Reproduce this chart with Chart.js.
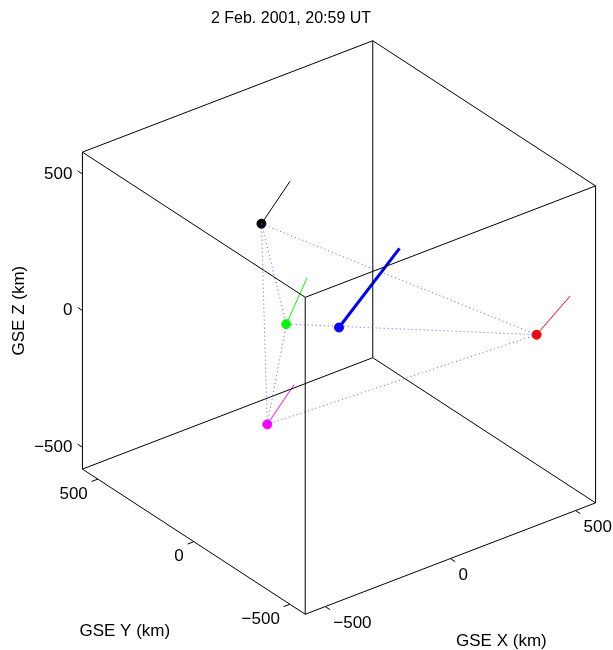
<!DOCTYPE html>
<html>
<head>
<meta charset="utf-8">
<script src="https://cdn.jsdelivr.net/npm/chart.js@4"></script>
<style>
  body { margin: 0; background: #fff; }
  canvas { display: block; }
</style>
</head>
<body>
<canvas id="tetra" width="613" height="650"></canvas>
<script>
// spacecraft positions relative to barycentre (GSE, km)
const craft = ["C1", "C2", "C3", "C4", "Barycentre"];
const posX = [-95, 490, -130, -275, 0];
const posY = [280, -390, 105, 15, 0];
const posZ = [285, -20, 10, -265, 0];
// direction vectors drawn from each point (km)
const vecX = [116, 122, 69, 108, 254];
const vecY = [2, -16, -19, 2, 16];
const vecZ = [114, 106, 155, 106, 193];
const colores = ["#000000", "#ff0000", "#00ff00", "#ff00ff", "#0000ff"];
// tetrahedron edges (index pairs)
const aristas = [[0, 1], [0, 2], [0, 3], [1, 2], [1, 3], [2, 3]];
const tickValues = [-500, 0, 500];
const tickLabels = ["\u2212500", "0", "500"];
const axisLimit = 580;
const titulo = "2 Feb. 2001, 20:59 UT";

// default matlab view
const az = -37.5 * Math.PI / 180;
const el = 30 * Math.PI / 180;
function proyectar(x, y, z) {
    return {
        x: Math.cos(az) * x + Math.sin(az) * y,
        y: -Math.sin(el) * Math.sin(az) * x + Math.sin(el) * Math.cos(az) * y + Math.cos(el) * z
    };
}

// view window (px per km and centre of the box on the canvas)
const k = 0.3155;
const cx = 339;
const cy = 327.5;
const W = 613, H = 650;

const datasets = [];
function segmento(a, b, color, width, dash) {
    datasets.push({
        data: [proyectar(a[0], a[1], a[2]), proyectar(b[0], b[1], b[2])],
        showLine: true,
        borderColor: color,
        borderWidth: width,
        borderDash: dash || [],
        pointRadius: 0,
        pointHoverRadius: 0
    });
}

// dotted tetrahedron
aristas.forEach((e) => {
    const i = e[0], j = e[1];
    segmento([posX[i], posY[i], posZ[i]], [posX[j], posY[j], posZ[j]], "rgba(60,60,255,0.85)", 1, [1, 3]);
});

// box
const L = axisLimit;
const esquinas = [];
[-L, L].forEach((a) => [-L, L].forEach((b) => [-L, L].forEach((c) => esquinas.push([a, b, c]))));
esquinas.forEach((p, i) => {
    esquinas.forEach((q, j) => {
        if (j <= i) return;
        let diff = 0;
        for (let d = 0; d < 3; d++) if (p[d] !== q[d]) diff++;
        if (diff === 1) segmento(p, q, "#000000", 1);
    });
});

// ticks
const tl = 25;
tickValues.forEach((t) => {
    segmento([t, -L, -L], [t, -L - tl, -L], "#000000", 1);
    segmento([-L, t, -L], [-L - tl, t, -L], "#000000", 1);
    segmento([-L, L, t], [-L, L + tl, t], "#000000", 1);
});

// vectors
posX.forEach((x, i) => {
    segmento([x, posY[i], posZ[i]], [x + vecX[i], posY[i] + vecY[i], posZ[i] + vecZ[i]],
        colores[i], i === 4 ? 3 : 1);
});

// markers
datasets.push({
    label: "spacecraft",
    data: posX.map((x, i) => proyectar(x, posY[i], posZ[i])),
    backgroundColor: colores,
    borderColor: colores,
    pointRadius: 4.5,
    pointHoverRadius: 4.5
});

const textos = {
    id: "textos",
    afterDatasetsDraw(chart) {
        const ctx = chart.ctx;
        const sx = chart.scales.x, sy = chart.scales.y;
        const px = (x, y, z) => {
            const p = proyectar(x, y, z);
            return [sx.getPixelForValue(p.x), sy.getPixelForValue(p.y)];
        };
        ctx.save();
        ctx.fillStyle = "#000";
        ctx.font = "16px 'Liberation Sans', Arial, sans-serif";
        ctx.textAlign = "center";
        ctx.textBaseline = "middle";
        ctx.fillText(titulo, 291, 19);

        ctx.font = "17px 'Liberation Sans', Arial, sans-serif";
        tickValues.forEach((t, i) => {
            // x ticks
            let p = px(t, -L, -L);
            ctx.textAlign = "left";
            ctx.fillText(tickLabels[i], p[0] + 8, p[1] + 17);
            // y ticks
            p = px(-L, t, -L);
            ctx.textAlign = "right";
            ctx.fillText(tickLabels[i], p[0] - 10, p[1] + 15);
            // z ticks
            p = px(-L, L, t);
            ctx.textAlign = "right";
            ctx.fillText(tickLabels[i], p[0] - 10, p[1]);
        });

        ctx.textAlign = "center";
        let p = px(0, -L, -L);
        ctx.fillText("GSE X (km)", p[0] + 51, p[1] + 83);
        p = px(-L, 0, -L);
        ctx.fillText("GSE Y (km)", p[0] - 69, p[1] + 90);
        p = px(-L, L, 0);
        ctx.translate(p[0] - 63, p[1]);
        ctx.rotate(-Math.PI / 2);
        ctx.fillText("GSE Z (km)", 0, 0);
        ctx.restore();
    }
};

new Chart(document.getElementById("tetra").getContext("2d"), {
    type: "scatter",
    data: { datasets: datasets },
    options: {
        responsive: false,
        animation: false,
        events: [],
        layout: { padding: 0, autoPadding: false },
        plugins: {
            legend: { display: false },
            tooltip: { enabled: false },
            title: { display: false }
        },
        scales: {
            x: { type: "linear", display: false, min: -cx / k, max: (W - cx) / k },
            y: { type: "linear", display: false, min: -(H - cy) / k, max: cy / k }
        }
    },
    plugins: [textos]
});
</script>
</body>
</html>
